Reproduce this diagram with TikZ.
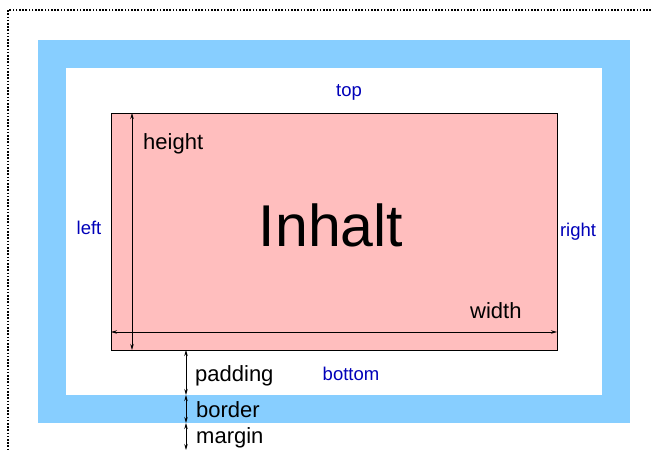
\documentclass[tikz,border=0pt]{standalone}
\usepackage{fontspec}
\setmainfont{Liberation Sans}
\usetikzlibrary{arrows.meta}
\definecolor{boxblue}{RGB}{135,206,255}
\definecolor{boxpink}{RGB}{255,190,190}
\definecolor{lblblue}{RGB}{0,0,185}
\begin{document}
\begin{tikzpicture}[x=1pt, y=-1pt,
		side/.style = {text=lblblue, inner sep=0, font=\fontsize{18.5}{18.5}\selectfont},
		lbl/.style = {anchor=west, inner sep=0, font=\fontsize{22}{22}\selectfont},
		dim/.style = {{Stealth[length=6pt,width=3.5pt]}-{Stealth[length=6pt,width=3.5pt]}, line width=0.8pt}]

		\useasboundingbox (0,0) rectangle (651,450);
		\draw[line width=1.1pt, dash pattern=on 1.6pt off 1.6pt] (651,10) -- (8,10) -- (8,450);

		\fill[boxblue] (38,40) rectangle (630,423);
		\fill[white] (66,68) rectangle (602,395);
		\draw[fill=boxpink, line width=0.9pt] (111,113) rectangle (557,350);

		\node[side] (T) at (349,92) {top};
		\node[side] (L) at (89,228) {left};
		\node[side] (R) at (578,232) {right};
		\node[side] (Bo) at (351,374) {bottom};

		\node[font=\fontsize{59}{59}\selectfont] (I) at (331,225) {Inhalt};
		\node[lbl] (H) at (143,144) {height};
		\node[lbl] (W) at (470,311) {width};
		\node[lbl] (P) at (195,376) {padding};
		\node[lbl] (B) at (196,410) {border};
		\node[lbl] (M) at (196,438) {margin};

		\coordinate (h1) at (132,113);
		\coordinate (h2) at (132,350);
		\coordinate (w1) at (111,332);
		\coordinate (w2) at (557,332);
		\coordinate (d1) at (186,350);
		\coordinate (d2) at (186,395);
		\coordinate (d3) at (186,423);
		\coordinate (d4) at (186,450);

		\draw[dim] (h1) to (h2);
		\draw[dim] (w1) to (w2);
		\draw[dim] (d1) to (d2);
		\draw[dim] (d2) to (d3);
		\draw[dim] (d3) to (d4);
	\end{tikzpicture}
\end{document}
